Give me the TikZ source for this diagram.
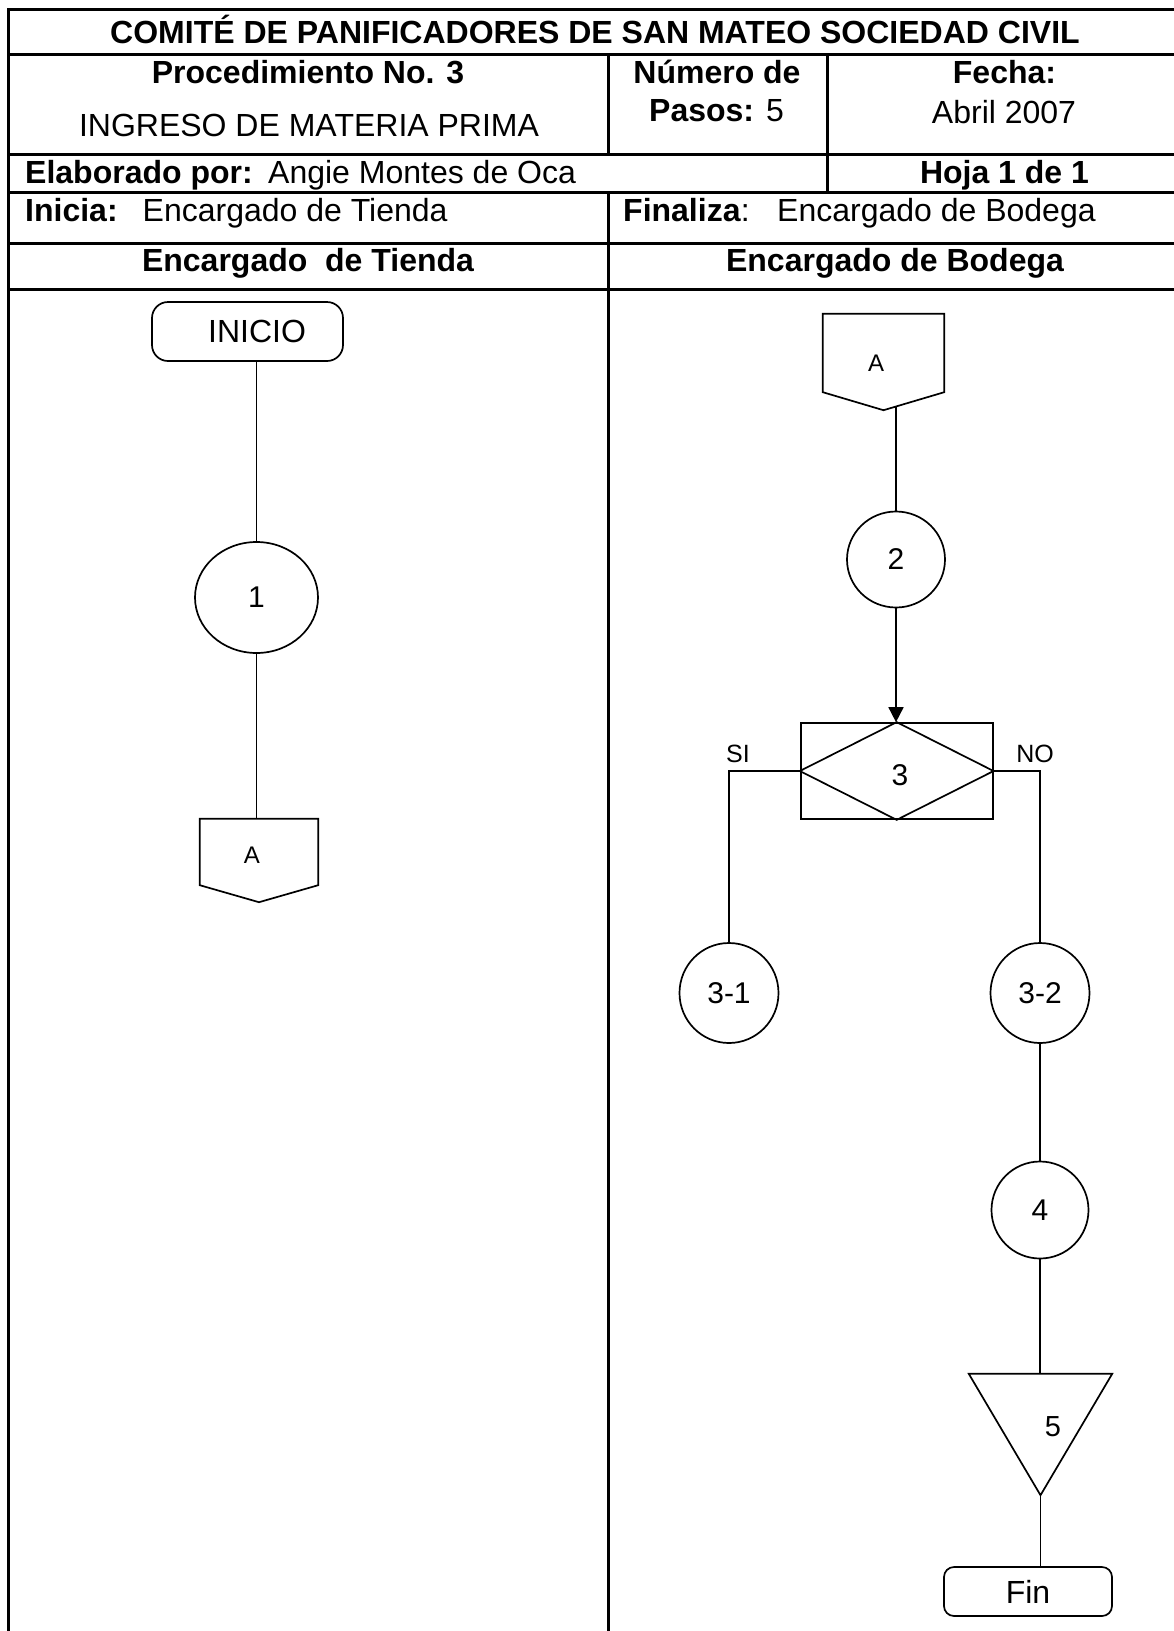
\documentclass[tikz,border=0pt]{standalone}
\usepackage{fontspec}
\setmainfont{Liberation Sans}
\usetikzlibrary{shapes.geometric,arrows.meta,calc}
\begin{document}
\begin{tikzpicture}[x=1pt,y=-1pt,
  grid/.style={line width=3pt},
  shp/.style={draw,line width=1.7pt},
  flow/.style={line width=1.7pt},
  hdr/.style={font=\fontsize{32}{36}\selectfont,inner sep=0pt},
  hdrb/.style={font=\fontsize{32}{36}\selectfont\bfseries,inner sep=0pt},
  circ/.style={shp,ellipse,inner sep=0pt,font=\fontsize{30}{34}\selectfont},
  lbl/.style={inner sep=0pt},
  box/.style={rectangle,inner sep=0pt},
]
\useasboundingbox (0,0) rectangle (1174,1631);
% table grid
\draw[grid] (8,1631) -- (8,9) -- (1174,9);
\foreach \yy in {54.5,154,192.5,243,289} \draw[grid] (8,\yy) -- (1174,\yy);
\draw[grid] (608,54.5) -- (608,154);
\draw[grid] (608,192.5) -- (608,1631);
\draw[grid] (827,54.5) -- (827,192.5);
% header texts
\node[hdrb,anchor=base] (title) at (595,43.3) {COMITÉ DE PANIFICADORES DE SAN MATEO SOCIEDAD CIVIL};
\node[hdrb,anchor=base] (proc) at (308,83.5) {Procedimiento No. 3};
\node[hdr,anchor=base] (ingreso) at (309,136.7) {INGRESO DE MATERIA PRIMA};
\node[hdrb,anchor=base] (numero) at (717,83.5) {Número de};
\node[hdr,anchor=base] (pasos) at (716.5,121.7) {\textbf{Pasos:} 5};
\node[hdrb,anchor=base] (fecha) at (1004.5,83.5) {Fecha:};
\node[hdr,anchor=base] (abril) at (1004,123.3) {Abril 2007};
\node[hdrb,anchor=base west] (elab) at (25,183) {Elaborado por:};
\node[hdr,anchor=base west] (angie) at (268,183) {Angie Montes de Oca};
\node[hdrb,anchor=base] (hoja) at (1004.5,183) {Hoja 1 de 1};
\node[hdrb,anchor=base west] (inicia) at (25,221) {Inicia:};
\node[hdr,anchor=base west] (initxt) at (142.5,221) {Encargado de Tienda};
\node[hdr,anchor=base west] (finaliza) at (623,221) {\textbf{Finaliza}:};
\node[hdr,anchor=base west] (fintxt) at (777,221) {Encargado de Bodega};
\node[hdrb,anchor=base] (laneA) at (308,271.5) {Encargado\ \ de Tienda};
\node[hdrb,anchor=base] (laneB) at (895,271.5) {Encargado de Bodega};
% left lane
\node[shp,box,rounded corners=16pt,minimum width=191pt,minimum height=59pt,font=\fontsize{32}{36}\selectfont] (inicio) at (247.5,331.5) {\hspace*{19pt}INICIO};
\node[circ,minimum width=123pt,minimum height=111pt] (c1) at (256.5,597.5) {1};
\node[box,minimum width=118pt,minimum height=83pt] (offA) at (259,860.5) {};
\draw[shp] (offA.north west) -- (offA.north east) -- ($(offA.south east)+(0,-17)$) -- (offA.south) -- ($(offA.south west)+(0,-17)$) -- cycle;
\node[lbl,font=\fontsize{24}{28}\selectfont] (offAt) at (252,855) {A};
% right lane
\node[box,minimum width=121pt,minimum height=96pt] (offB) at (883.5,362) {};
\draw[shp] (offB.north west) -- (offB.north east) -- ($(offB.south east)+(0,-18)$) -- (offB.south) -- ($(offB.south west)+(0,-18)$) -- cycle;
\node[lbl,font=\fontsize{24}{28}\selectfont] (offBt) at (876,363) {A};
\node[circ,minimum width=98pt,minimum height=96pt] (c2) at (896,559.5) {2};
\node[shp,box,minimum width=192pt,minimum height=96pt] (dec) at (896.7,771) {};
\draw[shp] (dec.north) -- (dec.east) -- (dec.south) -- (dec.west) -- cycle;
\node[lbl,font=\fontsize{30}{34}\selectfont] (d3) at (900,775) {3};
\node[lbl,font=\fontsize{25}{30}\selectfont] (si) at (738,754) {SI};
\node[lbl,font=\fontsize{25}{30}\selectfont] (no) at (1035,754) {NO};
\node[circ,minimum width=99pt,minimum height=100pt] (c31) at (729,993) {3-1};
\node[circ,minimum width=99pt,minimum height=100pt] (c32) at (1040,993) {3-2};
\node[circ,minimum width=97pt,minimum height=97pt] (c4) at (1040,1210) {4};
\node[box,minimum width=143pt,minimum height=121pt] (tri) at (1040.5,1434.5) {};
\draw[shp] (tri.north west) -- (tri.north east) -- (tri.south) -- cycle;
\node[lbl,font=\fontsize{29}{34}\selectfont] (t5) at (1053,1427) {5};
\node[shp,box,rounded corners=10pt,minimum width=168pt,minimum height=49pt,font=\fontsize{32}{36}\selectfont] (fin) at (1028,1591.5) {Fin};
% connectors
\draw[flow] (inicio.south -| c1.north) -- (c1.north);
\draw[flow] (c1.south) -- (c1.south |- offA.north);
\draw[flow] ($(c2.north |- offB.south)+(0,-3.7)$) -- (c2.north);
\draw[flow,-{Triangle[length=15pt,width=15pt]}] (c2.south) -- (c2.south |- dec.north);
\draw[flow] (dec.west) -| (c31.north);
\draw[flow] (dec.east) -| (c32.north);
\draw[flow] (c32.south) -- (c4.north);
\draw[flow] (c4.south) -- (c4.south |- tri.north);
\draw[flow] (tri.south) -- (tri.south |- fin.north);
\end{tikzpicture}
\end{document}
